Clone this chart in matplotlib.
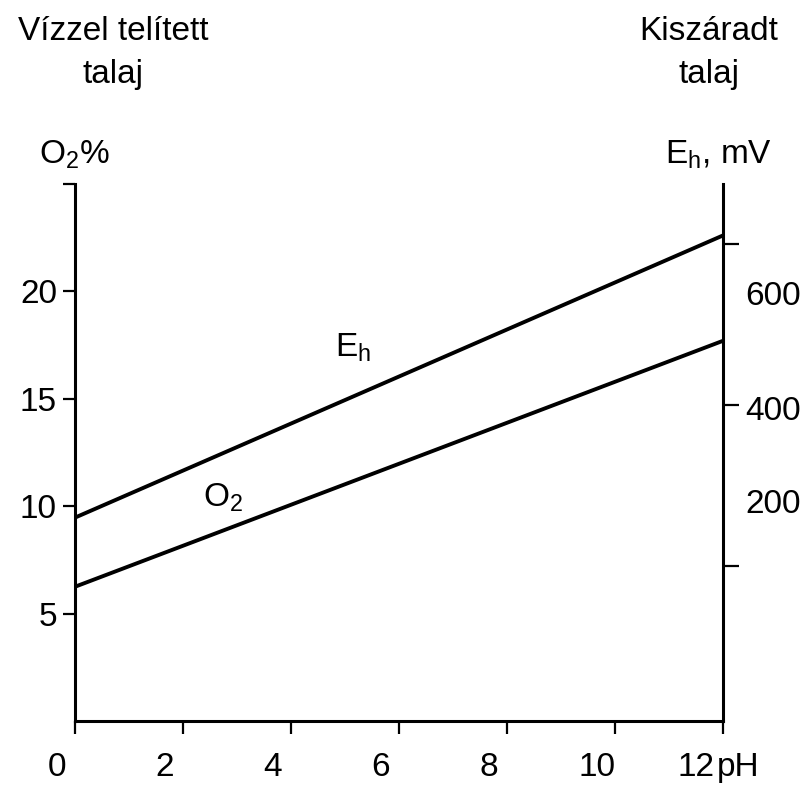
import matplotlib
matplotlib.use("Agg")
import matplotlib.pyplot as plt
import matplotlib.transforms as mtrans

plt.rcParams['font.family'] = ['Liberation Sans', 'DejaVu Sans']

# Data
ph = [0, 12]
o2_percent = [6.25, 17.7]
eh_mv = [260, 611]

x_ticks = [0, 2, 4, 6, 8, 10, 12]
x_ticklabels = ['0', '2', '4', '6', '8', '10', '12']
x_unit = 'pH'
left_ticks = [5, 10, 15, 20, 25]
left_ticklabels = ['5', '10', '15', '20', '']
right_ticks = [200, 400, 600]
right_label_pos = [281, 396, 540]
right_ticklabels = ['200', '400', '600']

W, H = 811, 787
fig = plt.figure(figsize=(W / 100, H / 100), dpi=100)
ax = fig.add_axes([75 / W, 1 - 721 / H, 648 / W, 537 / H])
ax2 = ax.twinx()

lw_axis = 2.2
fs = 24

ax.plot(ph, o2_percent, color='black', lw=2.8, solid_capstyle='butt')
ax2.plot(ph, eh_mv, color='black', lw=2.8, solid_capstyle='butt')

ax.set_xlim(0, 12)
ax.set_ylim(0, 25)
ax2.set_ylim(7, 675)

for a in (ax, ax2):
    a.spines['top'].set_visible(False)
ax.spines['right'].set_visible(False)
ax2.spines['left'].set_visible(False)
ax2.spines['bottom'].set_visible(False)
ax.spines['left'].set_linewidth(lw_axis)
ax.spines['bottom'].set_linewidth(lw_axis)
ax2.spines['right'].set_linewidth(lw_axis)

ax.set_xticks(x_ticks)
ax.set_xticklabels(x_ticklabels)
ax.tick_params(axis='x', direction='out', length=9, width=1.6, labelsize=fs, pad=13)
for i, lab in enumerate(ax.get_xticklabels()):
    dx = -27 if i == len(x_ticks) - 1 else -18
    lab.set_transform(lab.get_transform() + mtrans.ScaledTranslation(dx / 100, 0, fig.dpi_scale_trans))

ax.set_yticks(left_ticks)
ax.set_yticklabels(left_ticklabels)
ax.tick_params(axis='y', direction='out', length=9, width=1.6, labelsize=fs, pad=4)

ax2.set_yticks(right_label_pos)
ax2.set_yticklabels(right_ticklabels)
ax2.tick_params(axis='y', which='major', length=0, labelsize=fs, pad=16)
ax2.set_yticks(right_ticks, minor=True)
ax2.tick_params(axis='y', which='minor', direction='out', length=11.5, width=1.6)

# pH unit label next to 12
ax.annotate(x_unit, xy=(12, 0), xycoords=('data', 'axes fraction'), xytext=(-6, -(9 + 13) * 100 / 72),
            textcoords='offset pixels', fontsize=fs, ha='left', va='top')

# Line labels
ax.text(5.15, 17.4, r'E$_\mathregular{h}$', fontsize=fs, ha='center', va='center')
ax.text(2.75, 10.4, r'O$_\mathregular{2}$', fontsize=fs, ha='center', va='center')

# Header texts
fig.text(113 / W, 1 - 53 / H, 'Vízzel telített\ntalaj', fontsize=fs, ha='center', va='center', linespacing=1.5)
fig.text(709 / W, 1 - 53 / H, 'Kiszáradt\ntalaj', fontsize=fs, ha='center', va='center', linespacing=1.5)
fig.text(74 / W, 1 - 155 / H, r'O$_\mathregular{2}$%', fontsize=fs, ha='center', va='center')
fig.text(718 / W, 1 - 155 / H, r'E$_\mathregular{h}$, mV', fontsize=fs, ha='center', va='center')

fig.savefig('out.png', dpi=100)
